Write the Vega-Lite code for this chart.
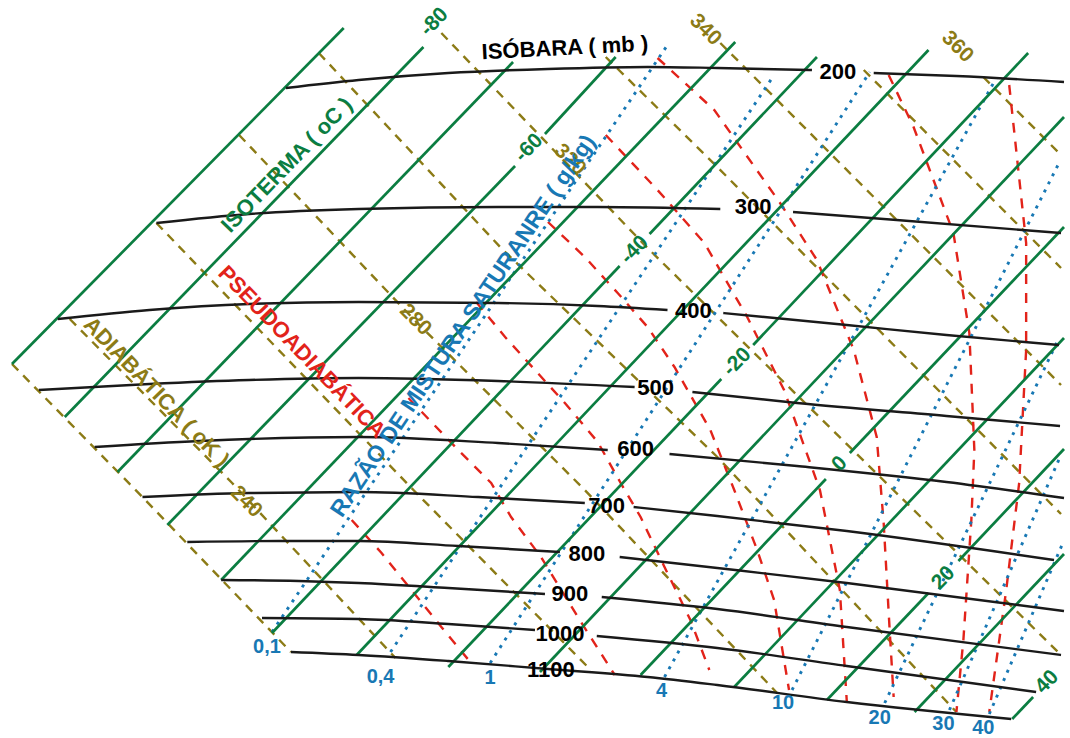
{
"$schema": "https://vega.github.io/schema/vega-lite/v6.json",
"width": 1070, "height": 738, "padding": 0,
"autosize": {"type": "fit", "contains": "padding"},
"config": {"view": {"stroke": null}, "text": {"font": "Liberation Sans", "fontWeight": "bold"}},
"datasets": {
"isobar": [
{"s":"200a","i":0,"x":287,"y":88},{"s":"200a","i":1,"x":360,"y":80},{"s":"200a","i":2,"x":450,"y":73},{"s":"200a","i":3,"x":550,"y":69},{"s":"200a","i":4,"x":650,"y":67},{"s":"200a","i":5,"x":720,"y":68},{"s":"200a","i":6,"x":815,"y":70},
{"s":"200b","i":0,"x":877,"y":73},{"s":"200b","i":1,"x":960,"y":76},{"s":"200b","i":2,"x":1068,"y":82},
{"s":"300a","i":0,"x":157,"y":223},{"s":"300a","i":1,"x":250,"y":214},{"s":"300a","i":2,"x":360,"y":209},{"s":"300a","i":3,"x":500,"y":207},{"s":"300a","i":4,"x":600,"y":207},{"s":"300a","i":5,"x":723,"y":209},
{"s":"300b","i":0,"x":796,"y":212},{"s":"300b","i":1,"x":900,"y":220},{"s":"300b","i":2,"x":1065,"y":233},
{"s":"400a","i":0,"x":58,"y":319},{"s":"400a","i":1,"x":150,"y":310},{"s":"400a","i":2,"x":250,"y":304},{"s":"400a","i":3,"x":360,"y":302},{"s":"400a","i":4,"x":500,"y":303},{"s":"400a","i":5,"x":600,"y":306},{"s":"400a","i":6,"x":670,"y":310},
{"s":"400b","i":0,"x":726,"y":313},{"s":"400b","i":1,"x":850,"y":325},{"s":"400b","i":2,"x":950,"y":335},{"s":"400b","i":3,"x":1063,"y":345},
{"s":"500a","i":0,"x":39,"y":390},{"s":"500a","i":1,"x":150,"y":384},{"s":"500a","i":2,"x":250,"y":380},{"s":"500a","i":3,"x":360,"y":378},{"s":"500a","i":4,"x":500,"y":381},{"s":"500a","i":5,"x":637,"y":387},
{"s":"500b","i":0,"x":695,"y":392},{"s":"500b","i":1,"x":800,"y":403},{"s":"500b","i":2,"x":950,"y":416},{"s":"500b","i":3,"x":1064,"y":426},
{"s":"600a","i":0,"x":95,"y":447},{"s":"600a","i":1,"x":200,"y":441},{"s":"600a","i":2,"x":360,"y":437},{"s":"600a","i":3,"x":500,"y":443},{"s":"600a","i":4,"x":610,"y":450},
{"s":"600b","i":0,"x":672,"y":454},{"s":"600b","i":1,"x":800,"y":466},{"s":"600b","i":2,"x":950,"y":482},{"s":"600b","i":3,"x":1068,"y":498},
{"s":"700a","i":0,"x":143,"y":497},{"s":"700a","i":1,"x":250,"y":493},{"s":"700a","i":2,"x":360,"y":492},{"s":"700a","i":3,"x":480,"y":497},{"s":"700a","i":4,"x":587,"y":503},
{"s":"700b","i":0,"x":636,"y":507},{"s":"700b","i":1,"x":720,"y":516},{"s":"700b","i":2,"x":850,"y":531},{"s":"700b","i":3,"x":1058,"y":560},
{"s":"800a","i":0,"x":188,"y":542},{"s":"800a","i":1,"x":280,"y":541},{"s":"800a","i":2,"x":360,"y":541},{"s":"800a","i":3,"x":460,"y":546},{"s":"800a","i":4,"x":562,"y":552},
{"s":"800b","i":0,"x":622,"y":557},{"s":"800b","i":1,"x":720,"y":568},{"s":"800b","i":2,"x":850,"y":583},{"s":"800b","i":3,"x":1068,"y":611},
{"s":"900a","i":0,"x":222,"y":580},{"s":"900a","i":1,"x":300,"y":581},{"s":"900a","i":2,"x":360,"y":583},{"s":"900a","i":3,"x":450,"y":588},{"s":"900a","i":4,"x":547,"y":594},
{"s":"900b","i":0,"x":604,"y":597},{"s":"900b","i":1,"x":720,"y":609},{"s":"900b","i":2,"x":850,"y":627},{"s":"900b","i":3,"x":1065,"y":655},
{"s":"1000a","i":0,"x":263,"y":618},{"s":"1000a","i":1,"x":360,"y":619},{"s":"1000a","i":2,"x":450,"y":624},{"s":"1000a","i":3,"x":537,"y":630},
{"s":"1000b","i":0,"x":599,"y":636},{"s":"1000b","i":1,"x":720,"y":648},{"s":"1000b","i":2,"x":850,"y":666},{"s":"1000b","i":3,"x":1040,"y":692},
{"s":"1100","i":0,"x":292,"y":652},{"s":"1100","i":1,"x":360,"y":655},{"s":"1100","i":2,"x":450,"y":661},{"s":"1100","i":3,"x":550,"y":669},{"s":"1100","i":4,"x":650,"y":677},{"s":"1100","i":5,"x":720,"y":685},{"s":"1100","i":6,"x":850,"y":702},{"s":"1100","i":7,"x":1015,"y":719}
],
"isotherm": [
{"s":"-90","i":0,"x":12,"y":364},{"s":"-90","i":1,"x":345,"y":28},
{"s":"-80","i":0,"x":65,"y":417},{"s":"-80","i":1,"x":425,"y":47},
{"s":"-70","i":0,"x":118,"y":472},{"s":"-70","i":1,"x":515,"y":62},
{"s":"-60a","i":0,"x":168,"y":525},{"s":"-60a","i":1,"x":517,"y":166},
{"s":"-60b","i":0,"x":547,"y":134},{"s":"-60b","i":1,"x":618,"y":57},
{"s":"-50","i":0,"x":222,"y":580},{"s":"-50","i":1,"x":738,"y":42},
{"s":"-40a","i":0,"x":273,"y":633},{"s":"-40a","i":1,"x":622,"y":266},
{"s":"-40b","i":0,"x":652,"y":234},{"s":"-40b","i":1,"x":820,"y":57},
{"s":"-30","i":0,"x":358,"y":655},{"s":"-30","i":1,"x":932,"y":50},
{"s":"-20a","i":0,"x":450,"y":667},{"s":"-20a","i":1,"x":724,"y":379},
{"s":"-20b","i":0,"x":756,"y":345},{"s":"-20b","i":1,"x":1032,"y":53},
{"s":"-10","i":0,"x":542,"y":672},{"s":"-10","i":1,"x":1068,"y":117},
{"s":"0a","i":0,"x":643,"y":675},{"s":"0a","i":1,"x":829,"y":479},
{"s":"0b","i":0,"x":853,"y":453},{"s":"0b","i":1,"x":1068,"y":227},
{"s":"10","i":0,"x":737,"y":687},{"s":"10","i":1,"x":1068,"y":338},
{"s":"20a","i":0,"x":830,"y":700},{"s":"20a","i":1,"x":932,"y":593},
{"s":"20b","i":0,"x":962,"y":561},{"s":"20b","i":1,"x":1068,"y":449},
{"s":"30","i":0,"x":918,"y":712},{"s":"30","i":1,"x":1068,"y":554},
{"s":"40","i":0,"x":1016,"y":719},{"s":"40","i":1,"x":1037,"y":697}
],
"adiabat": [
{"s":"230","i":0,"x":12,"y":364},{"s":"230","i":1,"x":143,"y":497},{"s":"230","i":2,"x":292,"y":652},
{"s":"240","i":0,"x":70,"y":319},{"s":"240","i":1,"x":233,"y":483},{"s":"240","i":2,"x":397,"y":658},
{"s":"260","i":0,"x":157,"y":223},{"s":"260","i":1,"x":415,"y":490},{"s":"260","i":2,"x":590,"y":667},
{"s":"280","i":0,"x":240,"y":135},{"s":"280","i":1,"x":414,"y":318},{"s":"280","i":2,"x":587,"y":490},{"s":"280","i":3,"x":780,"y":693},
{"s":"300","i":0,"x":320,"y":53},{"s":"300","i":1,"x":503,"y":248},{"s":"300","i":2,"x":720,"y":457},{"s":"300","i":3,"x":960,"y":712},
{"s":"320","i":0,"x":443,"y":33},{"s":"320","i":1,"x":650,"y":248},{"s":"320","i":2,"x":1065,"y":655},
{"s":"330","i":0,"x":608,"y":57},{"s":"330","i":1,"x":720,"y":167},{"s":"330","i":2,"x":1065,"y":514},
{"s":"340","i":0,"x":723,"y":43},{"s":"340","i":1,"x":1065,"y":385},
{"s":"350","i":0,"x":867,"y":70},{"s":"350","i":1,"x":1065,"y":268},
{"s":"360","i":0,"x":987,"y":77},{"s":"360","i":1,"x":1065,"y":155}
],
"pseudo": [
{"s":"r1","i":0,"x":353,"y":520},{"s":"r1","i":1,"x":383,"y":553},{"s":"r1","i":2,"x":413,"y":590},{"s":"r1","i":3,"x":443,"y":627},{"s":"r1","i":4,"x":472,"y":662},
{"s":"r2","i":0,"x":410,"y":398},{"s":"r2","i":1,"x":457,"y":447},{"s":"r2","i":2,"x":493,"y":483},{"s":"r2","i":3,"x":513,"y":517},{"s":"r2","i":4,"x":543,"y":557},{"s":"r2","i":5,"x":580,"y":617},{"s":"r2","i":6,"x":617,"y":675},
{"s":"r3","i":0,"x":478,"y":302},{"s":"r3","i":1,"x":507,"y":337},{"s":"r3","i":2,"x":567,"y":403},{"s":"r3","i":3,"x":600,"y":442},{"s":"r3","i":4,"x":623,"y":483},{"s":"r3","i":5,"x":643,"y":517},{"s":"r3","i":6,"x":667,"y":567},{"s":"r3","i":7,"x":693,"y":620},{"s":"r3","i":8,"x":712,"y":670},
{"s":"r4","i":0,"x":550,"y":222},{"s":"r4","i":1,"x":587,"y":257},{"s":"r4","i":2,"x":620,"y":293},{"s":"r4","i":3,"x":650,"y":327},{"s":"r4","i":4,"x":677,"y":367},{"s":"r4","i":5,"x":713,"y":430},{"s":"r4","i":6,"x":737,"y":490},{"s":"r4","i":7,"x":760,"y":550},{"s":"r4","i":8,"x":777,"y":600},{"s":"r4","i":9,"x":792,"y":690},
{"s":"r5","i":0,"x":608,"y":135},{"s":"r5","i":1,"x":660,"y":190},{"s":"r5","i":2,"x":707,"y":243},{"s":"r5","i":3,"x":750,"y":317},{"s":"r5","i":4,"x":787,"y":390},{"s":"r5","i":5,"x":823,"y":490},{"s":"r5","i":6,"x":843,"y":590},{"s":"r5","i":7,"x":850,"y":702},
{"s":"r6","i":0,"x":660,"y":58},{"s":"r6","i":1,"x":717,"y":110},{"s":"r6","i":2,"x":783,"y":203},{"s":"r6","i":3,"x":820,"y":260},{"s":"r6","i":4,"x":857,"y":350},{"s":"r6","i":5,"x":880,"y":437},{"s":"r6","i":6,"x":887,"y":523},{"s":"r6","i":7,"x":893,"y":630},{"s":"r6","i":8,"x":897,"y":697},
{"s":"r7","i":0,"x":892,"y":75},{"s":"r7","i":1,"x":917,"y":127},{"s":"r7","i":2,"x":957,"y":233},{"s":"r7","i":3,"x":973,"y":333},{"s":"r7","i":4,"x":978,"y":450},{"s":"r7","i":5,"x":975,"y":520},{"s":"r7","i":6,"x":967,"y":640},{"s":"r7","i":7,"x":960,"y":712},
{"s":"r8","i":0,"x":1013,"y":85},{"s":"r8","i":1,"x":1030,"y":243},{"s":"r8","i":2,"x":1030,"y":350},{"s":"r8","i":3,"x":1023,"y":483},{"s":"r8","i":4,"x":1010,"y":590},{"s":"r8","i":5,"x":993,"y":712}
],
"mix": [
{"s":"0,1","i":0,"x":273,"y":632},{"s":"0,1","i":1,"x":670,"y":45},
{"s":"0,4","i":0,"x":392,"y":652},{"s":"0,4","i":1,"x":777,"y":75},
{"s":"1","i":0,"x":492,"y":663},{"s":"1","i":1,"x":873,"y":72},
{"s":"4","i":0,"x":667,"y":677},{"s":"4","i":1,"x":1000,"y":78},
{"s":"10","i":0,"x":795,"y":690},{"s":"10","i":1,"x":1063,"y":163},
{"s":"20","i":0,"x":888,"y":703},{"s":"20","i":1,"x":1062,"y":340},
{"s":"30","i":0,"x":953,"y":710},{"s":"30","i":1,"x":1064,"y":457},
{"s":"40","i":0,"x":993,"y":714},{"s":"40","i":1,"x":1066,"y":545}
],
"labels": [
{"k":"p","t":"200","x":841,"y":72},{"k":"p","t":"300","x":756,"y":207},{"k":"p","t":"400","x":696,"y":311},{"k":"p","t":"500","x":658,"y":388},{"k":"p","t":"600","x":638,"y":449},{"k":"p","t":"700","x":609,"y":506},{"k":"p","t":"800","x":589,"y":554},{"k":"p","t":"900","x":572,"y":594},{"k":"p","t":"1000","x":562,"y":634},{"k":"p","t":"1100","x":553,"y":670},
{"k":"t","t":"-80","x":436,"y":22},{"k":"t","t":"-60","x":531,"y":148},{"k":"t","t":"-40","x":637,"y":250},{"k":"t","t":"-20","x":740,"y":362},{"k":"t","t":"0","x":843,"y":464},{"k":"t","t":"20","x":947,"y":578},{"k":"t","t":"40","x":1051,"y":682},
{"k":"a","t":"240","x":247,"y":502},{"k":"a","t":"280","x":417,"y":320},{"k":"a","t":"320","x":572,"y":160},{"k":"a","t":"340","x":708,"y":30},{"k":"a","t":"360","x":961,"y":47},
{"k":"m","t":"0,1","x":268,"y":647},{"k":"m","t":"0,4","x":382,"y":677},{"k":"m","t":"1","x":492,"y":678},{"k":"m","t":"4","x":664,"y":691},{"k":"m","t":"10","x":786,"y":703},{"k":"m","t":"20","x":883,"y":718},{"k":"m","t":"30","x":947,"y":724},{"k":"m","t":"40","x":987,"y":728},
{"k":"T1","t":"ISÓBARA ( mb )","x":567,"y":48},
{"k":"T2","t":"ISOTERMA ( oC )","x":288,"y":165},
{"k":"T3","t":"ADIABÁTICA ( oK )","x":157,"y":392},
{"k":"T4","t":"PSEUDOADIABÁTICA","x":303,"y":352},
{"k":"T5","t":"RAZÃO DE MISTURA SATURANRE ( g/kg)","x":465,"y":326}
]
},
"encoding": {
"x": {"field": "x", "type": "quantitative", "scale": {"domain": [0, 1070], "nice": false, "zero": false}, "axis": null},
"y": {"field": "y", "type": "quantitative", "scale": {"domain": [0, 738], "nice": false, "zero": false, "reverse": true}, "axis": null}
},
"layer": [
{"data": {"name": "adiabat"}, "mark": {"type": "line", "color": "#8c7b16", "strokeWidth": 2.4, "strokeDash": [9, 7]}, "encoding": {"detail": {"field": "s"}, "order": {"field": "i"}}},
{"data": {"name": "pseudo"}, "mark": {"type": "line", "color": "#e2231a", "strokeWidth": 2.4, "strokeDash": [10, 9]}, "encoding": {"detail": {"field": "s"}, "order": {"field": "i"}}},
{"data": {"name": "mix"}, "mark": {"type": "line", "color": "#1878b4", "strokeWidth": 2.9, "strokeDash": [3, 6]}, "encoding": {"detail": {"field": "s"}, "order": {"field": "i"}}},
{"data": {"name": "isotherm"}, "mark": {"type": "line", "color": "#0b7d41", "strokeWidth": 2.7}, "encoding": {"detail": {"field": "s"}, "order": {"field": "i"}}},
{"data": {"name": "isobar"}, "mark": {"type": "line", "color": "#1a1a1a", "strokeWidth": 2.4, "interpolate": "monotone"}, "encoding": {"detail": {"field": "s"}, "order": {"field": "i"}}},
{"data": {"name": "labels"}, "transform": [{"filter": "datum.k == 'p'"}], "mark": {"type": "text", "color": "#000000", "fontSize": 22, "align": "center", "baseline": "middle"}, "encoding": {"text": {"field": "t"}}},
{"data": {"name": "labels"}, "transform": [{"filter": "datum.k == 't'"}], "mark": {"type": "text", "color": "#0b7d41", "fontSize": 21, "angle": 314, "align": "center", "baseline": "middle"}, "encoding": {"text": {"field": "t"}}},
{"data": {"name": "labels"}, "transform": [{"filter": "datum.k == 'a'"}], "mark": {"type": "text", "color": "#8c7b16", "fontSize": 21, "angle": 45, "align": "center", "baseline": "middle"}, "encoding": {"text": {"field": "t"}}},
{"data": {"name": "labels"}, "transform": [{"filter": "datum.k == 'm'"}], "mark": {"type": "text", "color": "#1878b4", "fontSize": 20, "align": "center", "baseline": "middle"}, "encoding": {"text": {"field": "t"}}},
{"data": {"name": "labels"}, "transform": [{"filter": "datum.k == 'T1'"}], "mark": {"type": "text", "color": "#000000", "fontSize": 22, "angle": 357, "align": "center", "baseline": "middle"}, "encoding": {"text": {"field": "t"}}},
{"data": {"name": "labels"}, "transform": [{"filter": "datum.k == 'T2'"}], "mark": {"type": "text", "color": "#0b7d41", "fontSize": 22, "angle": 314, "align": "center", "baseline": "middle"}, "encoding": {"text": {"field": "t"}}},
{"data": {"name": "labels"}, "transform": [{"filter": "datum.k == 'T3'"}], "mark": {"type": "text", "color": "#8c7b16", "fontSize": 22, "angle": 46, "align": "center", "baseline": "middle"}, "encoding": {"text": {"field": "t"}}},
{"data": {"name": "labels"}, "transform": [{"filter": "datum.k == 'T4'"}], "mark": {"type": "text", "color": "#e2231a", "fontSize": 22, "angle": 46, "align": "center", "baseline": "middle"}, "encoding": {"text": {"field": "t"}}},
{"data": {"name": "labels"}, "transform": [{"filter": "datum.k == 'T5'"}], "mark": {"type": "text", "color": "#1878b4", "fontSize": 23, "angle": 304, "align": "center", "baseline": "middle"}, "encoding": {"text": {"field": "t"}}}
]
}
